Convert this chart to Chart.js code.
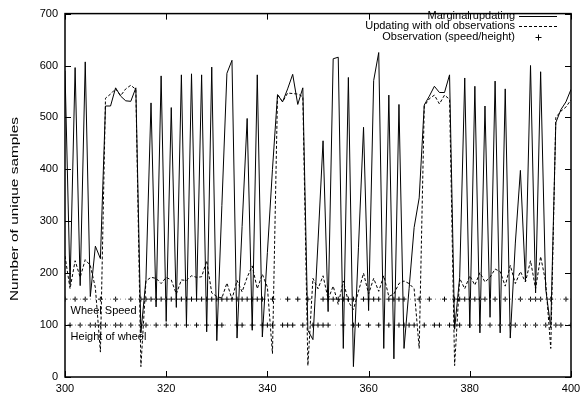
<!DOCTYPE html>
<html>
<head>
<meta charset="utf-8">
<script src="https://cdn.jsdelivr.net/npm/chart.js@4/dist/chart.umd.min.js"></script>
<style>
  html, body { margin: 0; padding: 0; background: #fff; }
  canvas { display: block; }
</style>
</head>
<body>
<canvas id="chart" width="588" height="396"></canvas>
<script>
// time steps start at 300, one sample per step
const firstStep = 300;

// Marginal updating (solid)
const marginal = [
  590, 178, 596, 176, 607, 155, 252, 228, 522, 522,
  557, 541, 532, 531, 557, 85, 188, 528, 135, 580,
  107, 519, 134, 582, 101, 584, 150, 582, 87, 597,
  70, 330, 585, 610, 75, 290, 498, 90, 582, 77,
  240, 400, 544, 530, 555, 583, 525, 557, 90, 72,
  260, 455, 126, 613, 616, 55, 577, 20, 250, 481,
  128, 571, 625, 55, 543, 35, 525, 55, 170, 288,
  345, 524, 541, 560, 548, 548, 582, 92, 192, 576,
  95, 560, 85, 522, 115, 570, 85, 555, 75, 258,
  398, 185, 600, 162, 588, 170, 95, 490, 515, 530,
  554
];

// Updating with old observations (dashed)
const withOld = [
  233, 170, 224, 192, 226, 215, 172, 48, 537, 545,
  555, 542, 555, 562, 554, 20, 185, 192, 190, 180,
  192, 187, 160, 187, 186, 195, 192, 193, 224, 162,
  155, 152, 181, 150, 186, 164, 192, 214, 170, 198,
  173, 45, 544, 530, 547, 546, 545, 540, 22, 190,
  170, 195, 150, 175, 140, 185, 145, 130, 165, 200,
  160, 190, 165, 195, 155, 160, 180, 185, 180, 170,
  55, 522, 536, 543, 526, 543, 535, 22, 190, 170,
  195, 177, 201, 183, 192, 208, 203, 175, 215, 180,
  203, 183, 224, 170, 232, 183, 55, 500, 512, 520,
  534
];

// observation times
const speedObs = [
  300, 302, 304, 307, 310, 313, 315, 316, 317, 318, 319, 320, 321, 322, 323,
  324, 325, 326, 327, 328, 329, 330, 331, 332, 333, 334, 335, 336, 337, 338,
  339, 341, 344, 346, 348, 351, 352, 353, 354, 355, 356, 357, 359, 360, 361,
  362, 364, 365, 366, 367, 370, 372, 375, 377, 378, 379, 380, 381, 382, 383,
  385, 387, 390, 392, 393, 394, 396, 399
];
const heightObs = [
  301, 303, 305, 306, 307, 308, 310, 311, 313, 315, 316, 318, 320, 322, 324,
  326, 328, 330, 331, 334, 335, 337, 339, 340, 341, 343, 344, 345, 347, 349,
  350, 351, 352, 355, 357, 358, 360, 362, 364, 366, 367, 368, 369, 371, 373,
  374, 376, 377, 378, 380, 382, 384, 386, 388, 389, 391, 393, 395, 397, 398, 400
];
const speedLevel = 150;
const heightLevel = 100;

const xTicks = [300, 320, 340, 360, 380, 400];
const yTicks = [0, 100, 200, 300, 400, 500, 600, 700];

const legendLabels = ["Marginal updating", "Updating with old observations", "Observation (speed/height)"];
const yTitle = "Number of unique samples";

const FONT = "'Liberation Sans', Arial, Helvetica, sans-serif";

function toPoints(values) {
  return values.map((v, i) => ({ x: firstStep + i, y: v }));
}

const frameAndText = {
  id: "frameAndText",
  afterDatasetsDraw(chart) {
    const ctx = chart.ctx;
    const area = chart.chartArea;
    const xs = chart.scales.x;
    const ys = chart.scales.y;
    ctx.save();
    ctx.strokeStyle = "#000";
    ctx.lineWidth = 1;

    // inward ticks, all four sides
    const tl = 6;
    ctx.beginPath();
    xTicks.forEach((t) => {
      const px = Math.round(xs.getPixelForValue(t)) + 0.5;
      ctx.moveTo(px, area.bottom); ctx.lineTo(px, area.bottom - tl);
      ctx.moveTo(px, area.top); ctx.lineTo(px, area.top + tl);
    });
    yTicks.forEach((t) => {
      const py = Math.round(ys.getPixelForValue(t)) + 0.5;
      ctx.moveTo(area.left, py); ctx.lineTo(area.left + tl, py);
      ctx.moveTo(area.right, py); ctx.lineTo(area.right - tl, py);
    });
    ctx.stroke();

    // frame
    ctx.lineWidth = 1.5;
    ctx.strokeRect(area.left, area.top, area.right - area.left, area.bottom - area.top);

    // labels in the plot
    ctx.fillStyle = "#000";
    ctx.font = "11px " + FONT;
    ctx.textBaseline = "middle";
    ctx.textAlign = "left";
    ctx.fillText("Wheel Speed", xs.getPixelForValue(301.1), ys.getPixelForValue(128));
    ctx.fillText("Height of wheel", xs.getPixelForValue(301.1), ys.getPixelForValue(77));

    // legend (top right, text right aligned, sample to the right)
    const textRight = 515;
    const sx0 = 519, sx1 = 557;
    const rows = [15.5, 26, 36.5];
    ctx.textAlign = "right";
    legendLabels.forEach((lab, i) => ctx.fillText(lab, textRight, rows[i]));
    ctx.lineWidth = 1;
    const ly0 = Math.round(rows[0]) + 0.5;
    const ly1 = Math.round(rows[1]) + 0.5;
    ctx.beginPath();
    ctx.moveTo(sx0, ly0); ctx.lineTo(sx1, ly0);
    ctx.stroke();
    ctx.setLineDash([3, 2]);
    ctx.beginPath();
    ctx.moveTo(sx0, ly1); ctx.lineTo(sx1, ly1);
    ctx.stroke();
    ctx.setLineDash([]);
    const cx = Math.round((sx0 + sx1) / 2), cy = Math.round(rows[2]);
    ctx.beginPath();
    ctx.moveTo(cx - 2.5, cy + 0.5); ctx.lineTo(cx + 3.5, cy + 0.5);
    ctx.moveTo(cx + 0.5, cy - 2.5); ctx.lineTo(cx + 0.5, cy + 3.5);
    ctx.stroke();

    // y axis title, drawn a little stretched like the original
    ctx.translate(15, 209);
    ctx.rotate(-Math.PI / 2);
    ctx.scale(1.4, 1);
    ctx.textAlign = "center";
    ctx.fillText(yTitle, 0, 0);
    ctx.restore();
  }
};

const ctx = document.getElementById("chart");

new Chart(ctx, {
  type: "line",
  data: {
    datasets: [
      {
        label: "speed guide",
        data: [{ x: xTicks[0], y: speedLevel }, { x: xTicks[xTicks.length - 1], y: speedLevel }],
        borderColor: "#888",
        borderWidth: 1,
        borderDash: [1, 4],
        pointRadius: 0,
      },
      {
        label: "height guide",
        data: [{ x: xTicks[0], y: heightLevel }, { x: xTicks[xTicks.length - 1], y: heightLevel }],
        borderColor: "#888",
        borderWidth: 1,
        borderDash: [1, 4],
        pointRadius: 0,
      },
      {
        label: legendLabels[2],
        data: speedObs.map((t) => ({ x: t, y: speedLevel }))
          .concat(heightObs.map((t) => ({ x: t, y: heightLevel }))),
        showLine: false,
        pointStyle: "cross",
        pointRadius: 2.5,
        borderColor: "#000",
        borderWidth: 1,
      },
      {
        label: legendLabels[1],
        data: toPoints(withOld),
        borderColor: "#000",
        borderWidth: 1,
        borderDash: [3, 2],
        pointRadius: 0,
        tension: 0,
      },
      {
        label: legendLabels[0],
        data: toPoints(marginal),
        borderColor: "#000",
        borderWidth: 1,
        pointRadius: 0,
        tension: 0,
      },
    ],
  },
  options: {
    responsive: false,
    animation: false,
    events: [],
    layout: { padding: { left: 0, right: 17, top: 6, bottom: 0 } },
    plugins: {
      legend: { display: false },
      tooltip: { enabled: false },
    },
    scales: {
      x: {
        type: "linear",
        min: 300,
        max: 400,
        afterFit: (scale) => { scale.height = 19; },
        afterBuildTicks: (scale) => { scale.ticks = xTicks.map((v) => ({ value: v })); },
        grid: { drawOnChartArea: false, drawTicks: false },
        border: { display: false },
        ticks: { color: "#000", font: { family: FONT, size: 11 }, padding: 5, maxRotation: 0 },
      },
      y: {
        min: 0,
        max: 700,
        afterFit: (scale) => { scale.width = 65; },
        afterBuildTicks: (scale) => { scale.ticks = yTicks.map((v) => ({ value: v })); },
        grid: { drawOnChartArea: false, drawTicks: false },
        border: { display: false },
        ticks: { color: "#000", font: { family: FONT, size: 11 }, padding: 7 },
      },
    },
  },
  plugins: [frameAndText],
});
</script>
</body>
</html>
